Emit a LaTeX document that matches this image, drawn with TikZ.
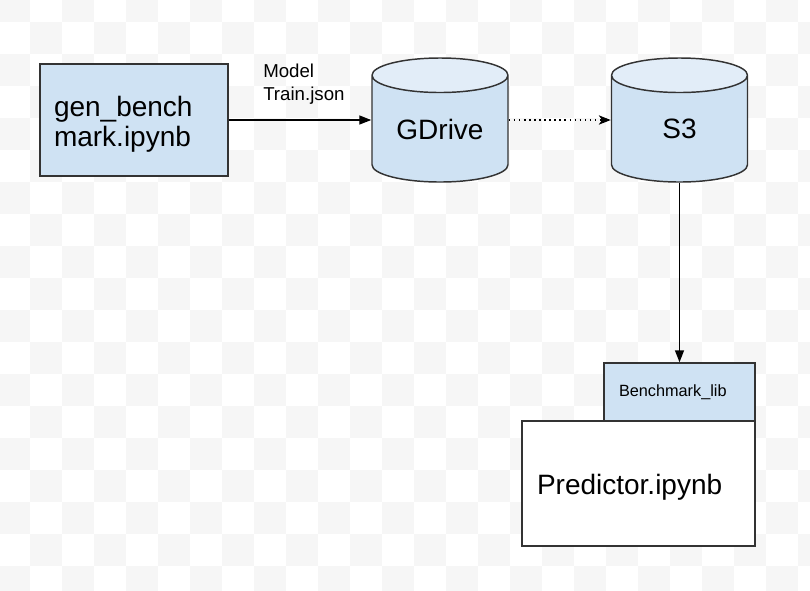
\documentclass[tikz,border=0pt]{standalone}
\usepackage{fontspec}
\setmainfont{Liberation Sans}
\usetikzlibrary{shapes.geometric,arrows.meta}
\definecolor{boxblue}{RGB}{207,226,243}
\definecolor{topblue}{RGB}{226,237,248}
\definecolor{edgegray}{RGB}{51,51,51}
\definecolor{checker}{RGB}{246,246,246}
\tikzset{
  every picture/.style={x=0.75pt,y=-0.75pt},
  big/.style={font=\fontsize{21}{22.5}\selectfont},
  box/.style={rectangle,draw=edgegray,line width=1.1pt,fill=boxblue,inner ysep=0pt,align=left},
  db/.style={cylinder,shape border rotate=90,aspect=0.8,draw=edgegray,line width=1.1pt,
    cylinder uses custom fill,cylinder body fill=boxblue,cylinder end fill=topblue,
    minimum width=102pt,minimum height=93pt,anchor=shape center,big},
  flow/.style={line width=1.1pt,-{Triangle[length=9pt,width=6.75pt]}},
  sync/.style={line width=0.9pt,dash pattern=on 1.2pt off 2.6pt,-{Stealth[length=9pt,width=7pt,inset=2.5pt]}},
}

\begin{document}
\begin{tikzpicture}
\useasboundingbox (0,0) rectangle (810,590);
% background squares
\begin{scope}
\clip (0,0) rectangle (810,590);
\foreach \i in {-1,...,24}
  \foreach \j in {-1,...,17}{
    \pgfmathtruncatemacro\chk{mod(\i+\j+2,2)}
    \ifnum\chk=0 \fill[checker] ({30+32*\i},{22+32*\j}) rectangle +(32,32); \fi
  }
\end{scope}

\node (node gen) at(134,120) [box,big,minimum width=141pt,minimum height=84pt,inner xsep=10.5pt,text width=120pt,text height=21pt] {gen\_bench\\mark.ipynb};
\node (node gdrive) at(440,120) [db] {\phantom{S3}};
\node (node gdrive text) at(440,129) [big] {GDrive};
\node (node s3) at(679.5,120) [db] {\phantom{S3}};
\node (node s3 text) at(679.5,129) [big] {S3};
\node (node lib) at(679.5,392) [box,minimum width=113.25pt,minimum height=43.5pt,inner xsep=11.25pt,text width=90.75pt,font=\fontsize{12.2}{14}\selectfont] {Benchmark\_lib};
\node (node pred) at(638.5,483.5) [box,big,fill=white,minimum width=174.75pt,minimum height=93.75pt,inner xsep=11.25pt,text width=152.25pt,text height=21pt] {Predictor.ipynb};
\node (node label) at(263,63.4) [anchor=north west,inner sep=0pt,align=left,font=\fontsize{14}{17.25}\selectfont] {Model\\Train.json};

\path (node gen.east) edge[flow] (node gen.east -| node gdrive.west)
      (node gdrive.east |- node gen.east) edge[sync] (node s3.west |- node gen.east)
      (node s3.south) edge[flow] (node lib.north);

\end{tikzpicture}
\end{document}
